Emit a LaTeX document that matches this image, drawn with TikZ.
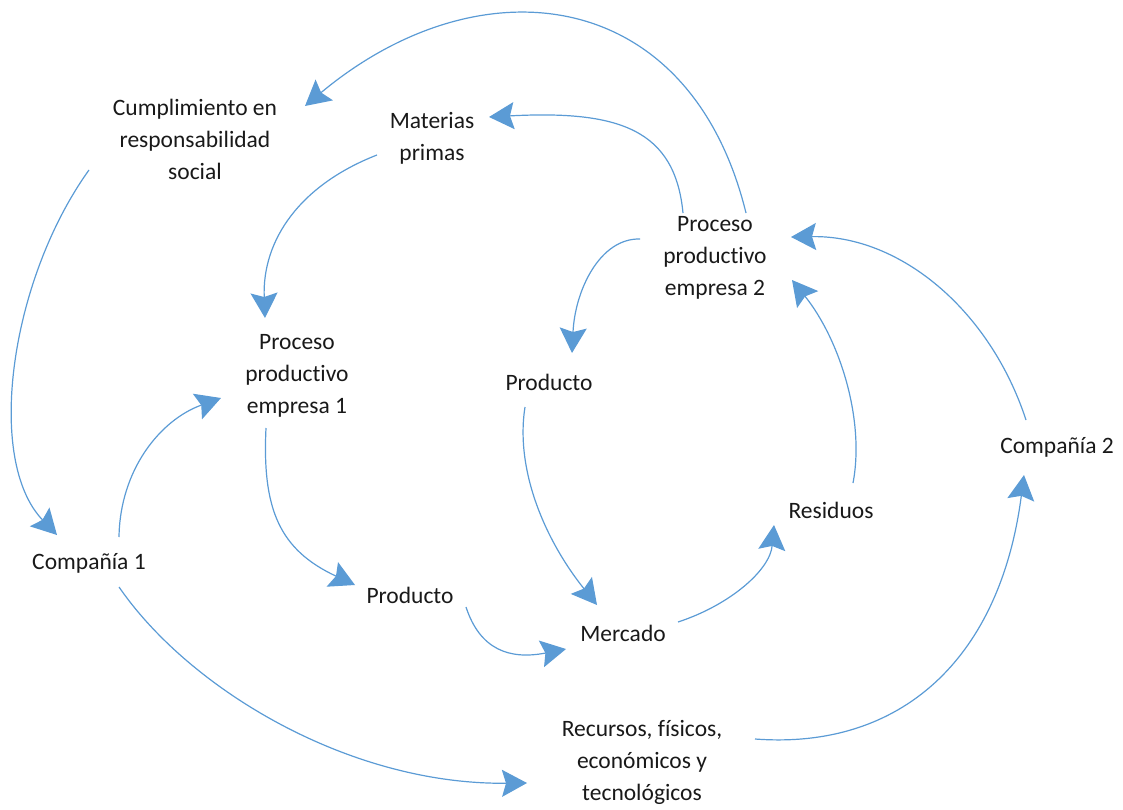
\documentclass[tikz,border=0pt]{standalone}
\usepackage{fontspec}
\setmainfont{Carlito}[Ligatures={NoCommon,NoRare,NoContextual}]
\usetikzlibrary{arrows.meta}
\definecolor{lineblue}{HTML}{5B9BD5}
\begin{document}
\begin{tikzpicture}[x=1pt,y=-1pt,
  lbl/.style={align=center,inner sep=0pt,font=\fontsize{23.5}{32}\selectfont,text=black!90},
  flow/.style={draw=lineblue,line width=1.2pt,-{Stealth[length=25pt,width=27pt,inset=4pt]}}]
\useasboundingbox (0,0) rectangle (1123,810);
% nodes
\node[lbl] (cump)  at (195,139) {Cumplimiento en\\responsabilidad\\social};
\node[lbl] (mat)   at (432,138) {Materias\\primas};
\node[lbl] (p2)    at (715,258) {Proceso\\productivo\\empresa 2};
\node[lbl] (p1)    at (297,376) {Proceso\\productivo\\empresa 1};
\node[lbl] (prodU) at (549,382) {Producto};
\node[lbl] (comp2) at (1057,447) {Compañía 2};
\node[lbl] (resid) at (831,510) {Residuos};
\node[lbl] (comp1) at (89,563) {Compañía 1};
\node[lbl] (prodL) at (410,595) {Producto};
\node[lbl] (merc)  at (623,633) {Mercado};
\node[lbl] (rec)   at (642,762) {Recursos, físicos,\\económicos y\\tecnológicos};
% connectors
\draw[flow] ([shift={(31,-45)}]p2.center) .. controls (690,-15) and (480,-40) .. ([shift={(110,-33)}]cump.center);
\draw[flow] ([shift={(-32,-45)}]p2.center) .. controls (675,130) and (620,110) .. ([shift={(57,-21)}]mat.center);
\draw[flow] ([shift={(-55,17)}]mat.center) .. controls (300,185) and (262,240) .. ([shift={(-32,-58)}]p1.center);
\draw[flow] ([shift={(-75,-19)}]p2.center) .. controls (600,238) and (575,290) .. ([shift={(23,-29)}]prodU.center);
\draw[flow] ([shift={(-31,52)}]p1.center) .. controls (262,510) and (280,550) .. ([shift={(-55,-10)}]prodL.center);
\draw[flow] ([shift={(30,-26)}]comp1.center) .. controls (120,470) and (160,420) .. ([shift={(-76,22)}]p1.center);
\draw[flow] ([shift={(-106,31)}]cump.center) .. controls (10,280) and (-15,460) .. ([shift={(-32,-28)}]comp1.center);
\draw[flow] ([shift={(30,24)}]comp1.center) .. controls (190,690) and (350,785) .. ([shift={(-115,21)}]rec.center);
\draw[flow] ([shift={(-24,25)}]prodU.center) .. controls (515,470) and (545,540) .. ([shift={(-26,-28)}]merc.center);
\draw[flow] ([shift={(56,12)}]prodL.center) .. controls (480,650) and (510,660) .. ([shift={(-57,16)}]merc.center);
\draw[flow] ([shift={(55,-11)}]merc.center) .. controls (730,605) and (770,570) .. ([shift={(-57,15)}]resid.center);
\draw[flow] ([shift={(22,-27)}]resid.center) .. controls (865,420) and (840,340) .. ([shift={(77,22)}]p2.center);
\draw[flow] ([shift={(-31,-27)}]comp2.center) .. controls (990,310) and (900,235) .. ([shift={(76,-21)}]p2.center);
\draw[flow] ([shift={(113,-23)}]rec.center) .. controls (900,750) and (1000,660) .. ([shift={(-33,28)}]comp2.center);
\end{tikzpicture}
\end{document}
